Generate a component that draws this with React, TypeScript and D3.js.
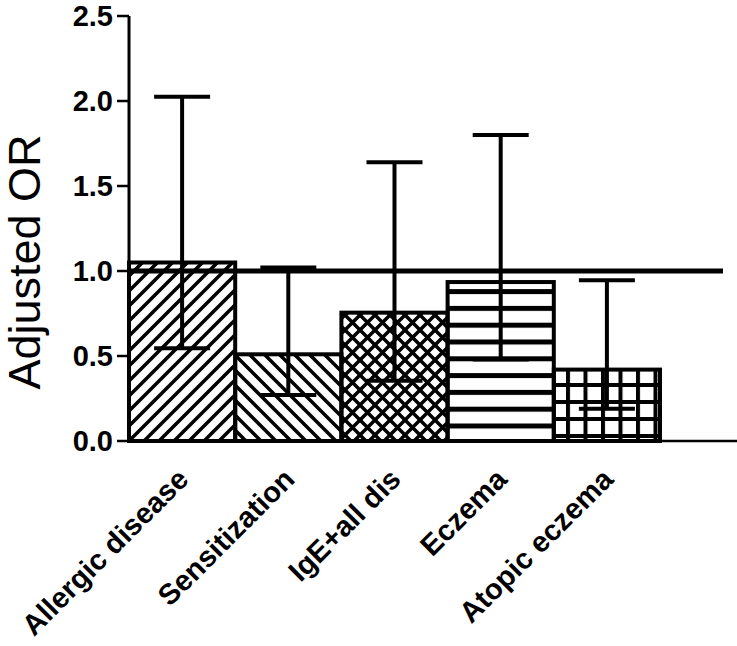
import React from "react";
import * as d3 from "d3";

const categories = ["Allergic disease", "Sensitization", "IgE+all dis", "Eczema", "Atopic eczema"];
const orValues = [1.05, 0.51, 0.755, 0.935, 0.42];
const lowerCI = [0.545, 0.27, 0.355, 0.48, 0.19];
const upperCI = [2.025, 1.02, 1.64, 1.8, 0.945];
const yTicks = [0, 0.5, 1.0, 1.5, 2.0, 2.5];
const refValue = 1.0;
const patternIds = ["p-fwd", "p-back", "p-cross", "p-horiz", "p-grid"];

const W = 737;
const H = 646;
const axisX = 129;
const plotTop = 16;
const plotBottom = 441;
const barsRight = 660;
const xAxisEnd = 737;
const refEnd = 723;

export default function App() {
  const y = d3.scaleLinear().domain([0, 2.5]).range([plotBottom, plotTop]);
  const x = d3.scaleBand<string>().domain(categories).range([axisX, barsRight]).padding(0);
  const bw = x.bandwidth();
  const capHalf = 28;
  const s = 15;

  return (
    <svg
      width={W}
      height={H}
      style={{ position: "absolute", left: 0, top: 0, background: "#fff" }}
      fontFamily="Liberation Sans, Arial, sans-serif"
    >
      <defs>
        <pattern id="p-fwd" patternUnits="userSpaceOnUse" width={s} height={s}>
          <path d={`M-2,2 L2,-2 M0,${s} L${s},0 M${s - 2},${s + 2} L${s + 2},${s - 2}`} stroke="#000" strokeWidth="3.5" />
        </pattern>
        <pattern id="p-back" patternUnits="userSpaceOnUse" width={s} height={s}>
          <path d={`M-2,${s - 2} L2,${s + 2} M0,0 L${s},${s} M${s - 2},-2 L${s + 2},2`} stroke="#000" strokeWidth="3.5" />
        </pattern>
        <pattern id="p-cross" patternUnits="userSpaceOnUse" width={s} height={s}>
          <path
            d={`M-2,2 L2,-2 M0,${s} L${s},0 M${s - 2},${s + 2} L${s + 2},${s - 2} M-2,${s - 2} L2,${s + 2} M0,0 L${s},${s} M${s - 2},-2 L${s + 2},2`}
            stroke="#000"
            strokeWidth="3.5"
          />
        </pattern>
        <pattern id="p-horiz" patternUnits="userSpaceOnUse" width="17" height="16.8" y="3.5">
          <rect x="0" y="0" width="17" height="5" fill="#000" />
        </pattern>
        <pattern id="p-grid" patternUnits="userSpaceOnUse" width="17.5" height="17" x="6" y="9">
          <rect x="0" y="0" width="17.5" height="4" fill="#000" />
          <rect x="0" y="0" width="4" height="17" fill="#000" />
        </pattern>
      </defs>

      {/* bars */}
      {categories.map((c, i) => (
        <rect
          key={c}
          x={x(c)!}
          y={y(orValues[i])}
          width={bw}
          height={plotBottom - y(orValues[i])}
          fill={`url(#${patternIds[i]})`}
          stroke="#000"
          strokeWidth={4}
        />
      ))}

      {/* error bars */}
      {categories.map((c, i) => {
        const cx = x(c)! + bw / 2;
        return (
          <g key={"e" + c} stroke="#000" strokeWidth={4}>
            <line x1={cx} x2={cx} y1={y(lowerCI[i])} y2={y(upperCI[i])} />
            <line x1={cx - capHalf} x2={cx + capHalf} y1={y(upperCI[i])} y2={y(upperCI[i])} />
            <line x1={cx - capHalf} x2={cx + capHalf} y1={y(lowerCI[i])} y2={y(lowerCI[i])} />
          </g>
        );
      })}

      {/* reference line */}
      <line x1={axisX} x2={refEnd} y1={y(refValue)} y2={y(refValue)} stroke="#000" strokeWidth={5} />

      {/* x axis */}
      <line x1={axisX} x2={xAxisEnd} y1={plotBottom} y2={plotBottom} stroke="#000" strokeWidth={2.5} />

      {/* y axis */}
      <line x1={axisX} x2={axisX} y1={plotTop} y2={plotBottom + 1} stroke="#000" strokeWidth={3} />
      {yTicks.map((t) => (
        <g key={t}>
          <line x1={axisX - 12} x2={axisX} y1={y(t)} y2={y(t)} stroke="#000" strokeWidth={2.5} />
          <text
            x={axisX - 16}
            y={y(t)}
            dy="0.36em"
            textAnchor="end"
            fontSize={29}
            fontWeight="bold"
          >
            {t.toFixed(1)}
          </text>
        </g>
      ))}

      {/* x labels */}
      {categories.map((c) => {
        const cx = x(c)! + bw / 2 + 8;
        const ly = 481;
        return (
          <text
            key={"l" + c}
            transform={`translate(${cx},${ly}) rotate(-45)`}
            textAnchor="end"
            fontSize={29}
            fontWeight="bold"
          >
            {c}
          </text>
        );
      })}

      {/* y title */}
      <text
        transform={`translate(40,262) rotate(-90)`}
        textAnchor="middle"
        fontSize={45}
      >
        Adjusted OR
      </text>
    </svg>
  );
}
